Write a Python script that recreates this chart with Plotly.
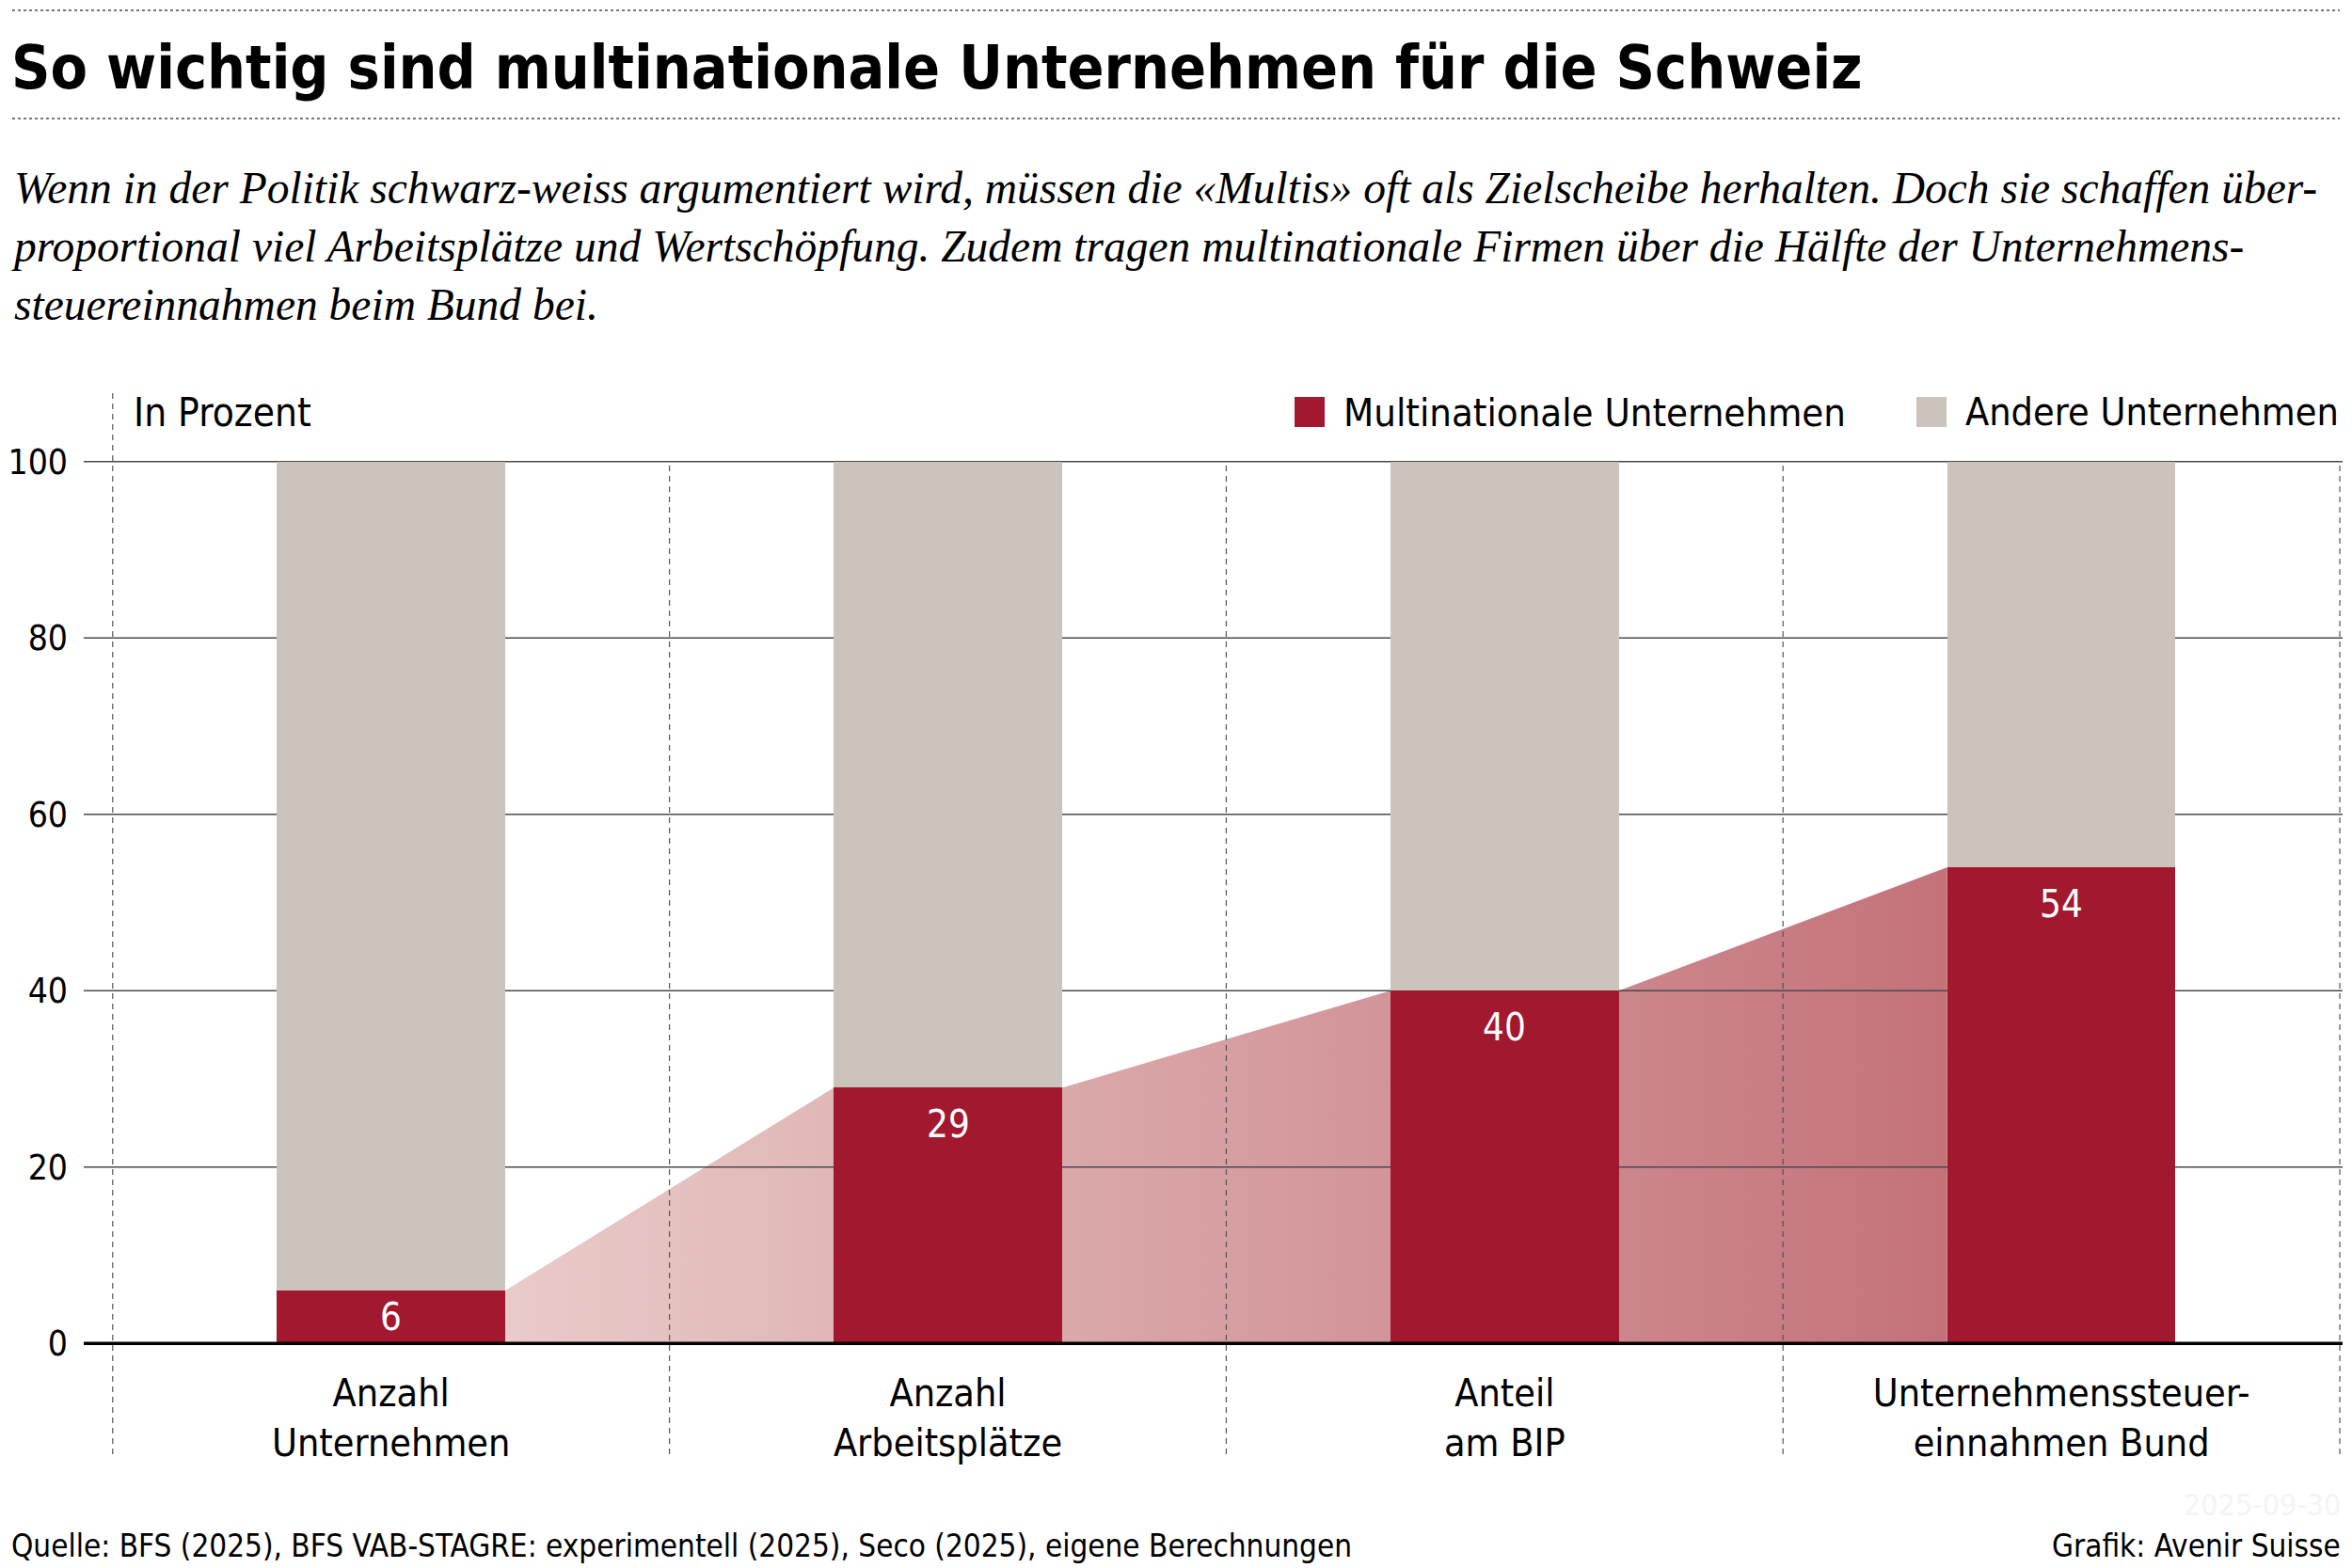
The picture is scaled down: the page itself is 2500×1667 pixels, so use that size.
import plotly.graph_objects as go

# data
categories = ["Anzahl<br>Unternehmen", "Anzahl<br>Arbeitsplätze", "Anteil<br>am BIP",
              "Unternehmenssteuer-<br>einnahmen Bund"]
multis = [6, 29, 40, 54]
andere = [94, 71, 60, 46]
series_names = ["Multinationale Unternehmen", "Andere Unternehmen"]
y_ticks = [0, 20, 40, 60, 80, 100]

title = "So wichtig sind multinationale Unternehmen für die Schweiz"
subtitle = ("Wenn in der Politik schwarz-weiss argumentiert wird, müssen die «Multis» oft als Zielscheibe herhalten. Doch sie schaffen über-<br>"
            "proportional viel Arbeitsplätze und Wertschöpfung. Zudem tragen multinationale Firmen über die Hälfte der Unternehmens-<br>"
            "steuereinnahmen beim Bund bei.")
source = "Quelle: BFS (2025), BFS VAB-STAGRE: experimentell (2025), Seco (2025), eigene Berechnungen"
credit = "Grafik: Avenir Suisse"
stamp = "2025-09-30"

# layout (page body adds an 8px offset)
OFF = 8
W, H = 2500 - OFF, 1667 - OFF
ML, MR, MT, MB = 81, 10, 478, 234
X_RANGE = [-0.552, 3.505]
Y_RANGE = [-0.5, 100.5]
BAR_W = 0.41
RED = "#a2182f"
GREY = "#cbc3bc"
SANS = "DejaVu Sans Condensed, DejaVu Sans, sans-serif"
SERIF = "Liberation Serif, DejaVu Serif, serif"

plot_w = W - ML - MR
plot_h = H - MT - MB
px_per_unit = plot_h / (Y_RANGE[1] - Y_RANGE[0])


def fx(px):
    return (px - OFF - ML) / plot_w


def fy(py):
    return (H - MB - (py - OFF)) / plot_h


x_pos = list(range(len(categories)))
fig = go.Figure()

# shaded connection between the red bars
for i in range(len(x_pos) - 1):
    fig.add_trace(go.Scatter(
        x=[x_pos[i] + BAR_W / 2, x_pos[i + 1] - BAR_W / 2],
        y=[multis[i], multis[i + 1]],
        mode="none", fill="tozeroy",
        fillgradient=dict(type="horizontal",
                          colorscale=[[0, "#e9cbc9"], [1, "#c4727a"]],
                          start=x_pos[0] + BAR_W / 2,
                          stop=x_pos[-1] - BAR_W / 2),
        showlegend=False, hoverinfo="skip"))

# grid lines drawn over the shading, under the bars
gx, gy = [], []
for t in y_ticks[1:]:
    gx += [X_RANGE[0], X_RANGE[1], None]
    gy += [t, t, None]
fig.add_trace(go.Scatter(x=gx, y=gy, mode="lines", line=dict(color="#4a4a4a", width=1.5),
                         showlegend=False, hoverinfo="skip"))

# bars on the overlaying axes so they sit on top
fig.add_trace(go.Bar(x=x_pos, y=multis, name=series_names[0], marker_color=RED,
                     marker_line_width=0, width=BAR_W, xaxis="x2", yaxis="y2",
                     showlegend=False))
fig.add_trace(go.Bar(x=x_pos, y=andere, name=series_names[1], marker_color=GREY,
                     marker_line_width=0, width=BAR_W, xaxis="x2", yaxis="y2",
                     showlegend=False))

annotations = []
# bar labels
for xi, v in zip(x_pos, multis):
    annotations.append(dict(x=xi, y=v, xref="x", yref="y", text=str(v), showarrow=False,
                            yanchor="middle", yshift=-min(39, v * px_per_unit / 2),
                            font=dict(family=SANS, size=40, color="white")))

annotations += [
    dict(x=fx(10), y=fy(72), text="<b>" + title + "</b>", xanchor="left", yanchor="middle",
         font=dict(family=SANS, size=64, color="black")),
    dict(x=fx(10), y=fy(172), text="<i>" + subtitle + "</i>", xanchor="left", yanchor="top",
         align="left", font=dict(family=SERIF, size=47.5, color="black")),
    dict(x=fx(140), y=fy(438), text="In Prozent", xanchor="left", yanchor="middle",
         font=dict(family=SANS, size=42, color="black")),
    dict(x=fx(1426), y=fy(438), text=series_names[0], xanchor="left", yanchor="middle",
         font=dict(family=SANS, size=41.5, color="black")),
    dict(x=fx(2488), y=fy(438), text=series_names[1], xanchor="right", yanchor="middle",
         font=dict(family=SANS, size=41, color="black")),
    dict(x=fx(10), y=fy(1643), text=source, xanchor="left", yanchor="middle",
         font=dict(family=SANS, size=33, color="black")),
    dict(x=fx(2490), y=fy(1643), text=credit, xanchor="right", yanchor="middle",
         font=dict(family=SANS, size=33, color="black")),
    dict(x=fx(2490), y=fy(1600), text=stamp, xanchor="right", yanchor="middle",
         font=dict(family=SANS, size=32, color="#f4f4f4")),
]
for a in annotations:
    a.setdefault("xref", "paper")
    a.setdefault("yref", "paper")
    a.setdefault("showarrow", False)

shapes = [
    dict(type="line", xref="paper", yref="paper", x0=fx(13), x1=fx(2487), y0=fy(11), y1=fy(11),
         line=dict(color="#777", width=2, dash="dot")),
    dict(type="line", xref="paper", yref="paper", x0=fx(13), x1=fx(2487), y0=fy(126), y1=fy(126),
         line=dict(color="#777", width=2, dash="dot")),
    # legend swatches
    dict(type="rect", xref="paper", yref="paper", x0=fx(1376), x1=fx(1408), y0=fy(454), y1=fy(422),
         fillcolor=RED, line_width=0),
    dict(type="rect", xref="paper", yref="paper", x0=fx(2037), x1=fx(2069), y0=fy(454), y1=fy(422),
         fillcolor=GREY, line_width=0),
    # zero line
    dict(type="line", xref="paper", yref="y", x0=0, x1=1, y0=0, y1=0, layer="above",
         line=dict(color="black", width=3.5)),
]
# dashed category separators
for k, b in enumerate([p - 0.5 for p in x_pos] + [x_pos[-1] + 0.5]):
    shapes.append(dict(type="line", xref="x", yref="paper", x0=b, x1=b,
                       y0=fy(1546), y1=fy(418) if k == 0 else fy(491), layer="above",
                       line=dict(color="#555", width=1.2, dash="6px,5px")))

fig.update_layout(
    width=W, height=H,
    margin=dict(l=ML, r=MR, t=MT, b=MB, autoexpand=False),
    paper_bgcolor="white", plot_bgcolor="white",
    barmode="stack", bargap=0,
    showlegend=False,
    xaxis=dict(range=X_RANGE, tickvals=x_pos, ticktext=categories, showgrid=False,
               zeroline=False, showline=False, ticks="", ticklabelstandoff=20,
               automargin=False,
               tickfont=dict(family=SANS, size=41, color="black")),
    yaxis=dict(range=Y_RANGE, tickvals=y_ticks, showgrid=False, zeroline=False,
               showline=False, ticks="", ticklabelstandoff=16, automargin=False,
               tickfont=dict(family=SANS, size=37, color="black")),
    xaxis2=dict(overlaying="x", matches="x", visible=False),
    yaxis2=dict(overlaying="y", matches="y", visible=False),
    annotations=annotations,
    shapes=shapes,
)

fig.write_html("out.html")
